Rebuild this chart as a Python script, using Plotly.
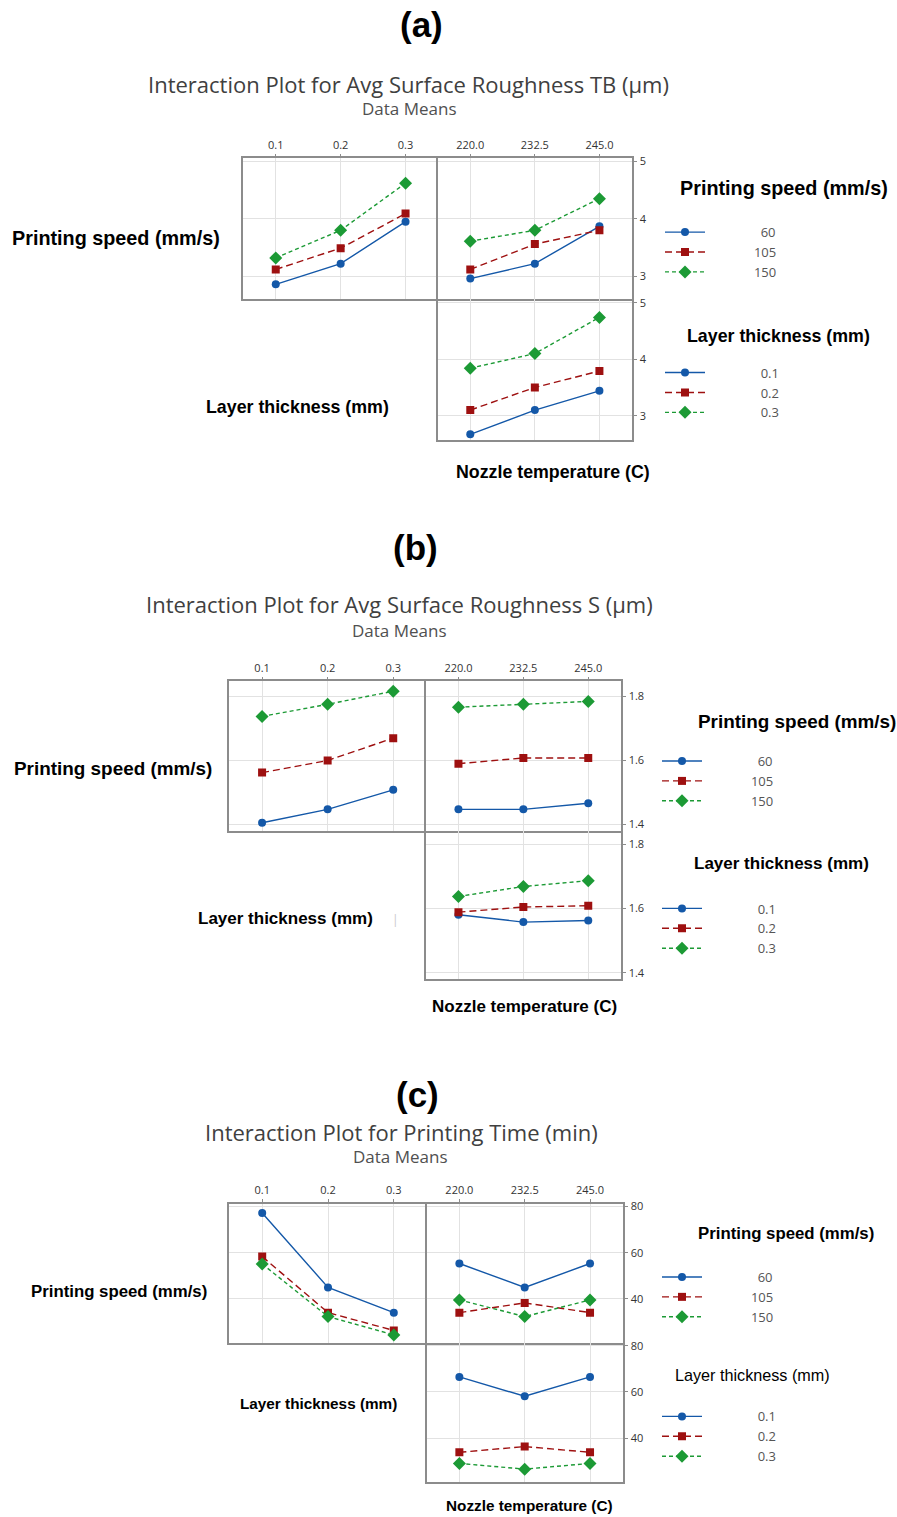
import plotly.graph_objects as go

W, H = 897, 1517


def px(x):
    return x / W


def py(y):
    return 1 - y / H


# ---------------- data ----------------
layer_thickness = [0.1, 0.2, 0.3]
nozzle_temp = [220.0, 232.5, 245.0]
thickness_ticktext = ["0.1", "0.2", "0.3"]
temp_ticktext = ["220.0", "232.5", "245.0"]
speed_labels = ["60", "105", "150"]
thickness_labels = ["0.1", "0.2", "0.3"]

# (a) Avg Surface Roughness TB (µm)
a_speed_vs_thickness = [[2.86, 3.22, 3.95], [3.12, 3.49, 4.09], [3.32, 3.80, 4.62]]
a_speed_vs_temp = [[2.96, 3.22, 3.87], [3.12, 3.56, 3.80], [3.61, 3.80, 4.35]]
a_thickness_vs_temp = [[2.67, 3.10, 3.44], [3.10, 3.50, 3.79], [3.84, 4.10, 4.74]]
a_yticks = [3, 4, 5]
a_yticktext = ["3", "4", "5"]

# (b) Avg Surface Roughness S (µm)
b_speed_vs_thickness = [[1.405, 1.447, 1.508], [1.562, 1.600, 1.670], [1.738, 1.776, 1.817]]
b_speed_vs_temp = [[1.447, 1.447, 1.466], [1.590, 1.608, 1.608], [1.767, 1.776, 1.785]]
b_thickness_vs_temp = [[1.581, 1.558, 1.563], [1.589, 1.605, 1.609], [1.638, 1.669, 1.687]]
b_yticks = [1.4, 1.6, 1.8]
b_yticktext = ["1.4", "1.6", "1.8"]

# (c) Printing Time (min)
c_speed_vs_thickness = [[77.1, 45.0, 34.1], [58.3, 34.1, 26.4], [55.1, 32.4, 24.5]]
c_speed_vs_temp = [[55.3, 45.0, 55.3], [34.1, 38.3, 34.1], [39.6, 32.4, 39.6]]
c_thickness_vs_temp = [[66.5, 58.1, 66.5], [33.8, 36.3, 33.8], [29.0, 26.5, 29.0]]
c_yticks = [40, 60, 80]
c_yticktext = ["40", "60", "80"]

# ---------------- styles ----------------
COLORS = ["#1458a8", "#9e1010", "#1c9a35"]
DASHES = ["solid", "7px,4px", "4px,3px"]
SYMBOLS = ["circle", "square", "diamond"]
MSIZES = [8, 8, 10]
GRID = "#e2e2e2"
BOX = "#8c8c8c"
TICKFONT = dict(family="Open Sans", size=11, color="#333333")
BOLD = "Liberation Sans"

fig = go.Figure()

panels = [
    dict(
        tag="(a)", tag_xy=(421, 20),
        title="Interaction Plot for Avg Surface Roughness TB (µm)", title_xy=(408, 79),
        means_xy=(409, 104),
        xl=243.3, xm=438.0, xr=631.7, yt=154.0, ym=295.5, yb=436.7,
        yr_top=[2.6, 5.05], yr_bot=[2.57, 5.06],
        yt_vals=a_yticks, yt_text=a_yticktext,
        d1=a_speed_vs_thickness, d2=a_speed_vs_temp, d3=a_thickness_vs_temp,
        lab_ps=(116, 234, 19.8), lab_lt=(297, 404, 17.8), lab_nt=(553, 469, 17.8),
        leg_ps_title=(784, 184, 19.8), leg_lt_title=(778, 332, 17.8), lt_title_bold=True,
        leg_x=665, leg_ps_y=225, leg_lt_y=366,
    ),
    dict(
        tag="(b)", tag_xy=(415, 545),
        title="Interaction Plot for Avg Surface Roughness S (µm)", title_xy=(399, 601),
        means_xy=(399, 628),
        xl=229.3, xm=426.0, xr=620.7, yt=679.0, ym=829.0, yb=977.7,
        yr_top=[1.38, 1.848], yr_bot=[1.381, 1.843],
        yt_vals=b_yticks, yt_text=b_yticktext,
        d1=b_speed_vs_thickness, d2=b_speed_vs_temp, d3=b_thickness_vs_temp,
        lab_ps=(113, 767, 18.9), lab_lt=(285, 917, 17), lab_nt=(524, 1005, 17),
        leg_ps_title=(797, 719, 18.9), leg_lt_title=(781, 862, 17), lt_title_bold=True,
        leg_x=662, leg_ps_y=756, leg_lt_y=904,
    ),
    dict(
        tag="(c)", tag_xy=(417, 1094),
        title="Interaction Plot for Printing Time (min)", title_xy=(401, 1131),
        means_xy=(400, 1156),
        xl=229.3, xm=426.7, xr=622.7, yt=1203.3, ym=1343.3, yb=1482.7,
        yr_top=[21.0, 81.2], yr_bot=[21.0, 81.2],
        yt_vals=c_yticks, yt_text=c_yticktext,
        d1=c_speed_vs_thickness, d2=c_speed_vs_temp, d3=c_thickness_vs_temp,
        lab_ps=(119, 1292, 16.8), lab_lt=(318, 1404, 15.3), lab_nt=(529, 1506, 15.3),
        leg_ps_title=(786, 1233, 16.8), leg_lt_title=(752, 1375, 16.2), lt_title_bold=False,
        leg_x=662, leg_ps_y=1274, leg_lt_y=1414,
    ),
]

annotations = []
layout_axes = {}
legends = {}


def ann(text, x, y, size, family, color="#000000", bold=False):
    t = f"<b>{text}</b>" if bold else text
    annotations.append(dict(
        text=t, x=px(x), y=py(y), xref="paper", yref="paper",
        xanchor="center", yanchor="middle", showarrow=False,
        font=dict(family=family, size=size, color=color)))


def pad(label, n):
    return "\u00a0" * n + label


for k, p in enumerate(panels):
    n = 3 * k + 1
    ids = [n, n + 1, n + 2]
    leg_ps = "legend" if k == 0 else f"legend{2 * k + 1}"
    leg_lt = f"legend{2 * k + 2}"

    dom_xl = [px(p["xl"]), px(p["xm"])]
    dom_xr = [px(p["xm"]), px(p["xr"])]
    dom_top = [py(p["ym"]), py(p["yt"])]
    dom_bot = [py(p["yb"]), py(p["ym"])]

    def xname(i):
        return "xaxis" if i == 1 else f"xaxis{i}"

    def yname(i):
        return "yaxis" if i == 1 else f"yaxis{i}"

    def ref(i):
        return ("x" if i == 1 else f"x{i}"), ("y" if i == 1 else f"y{i}")

    common_x = dict(showline=True, linecolor=BOX, linewidth=1.5,
                    showgrid=True, gridcolor=GRID, gridwidth=1, zeroline=False,
                    tickfont=TICKFONT, fixedrange=True)
    common_y = dict(showline=True, linecolor=BOX, linewidth=1.5,
                    showgrid=True, gridcolor=GRID, gridwidth=1, zeroline=False,
                    tickfont=TICKFONT, tickvals=p["yt_vals"], ticktext=p["yt_text"],
                    fixedrange=True)

    # top-left: speed vs layer thickness
    xr_, yr_ = ref(ids[0])
    layout_axes[xname(ids[0])] = dict(common_x, mirror=True, domain=dom_xl, range=[0.05, 0.35],
                                      anchor=yr_, side="top", tickvals=layer_thickness,
                                      ticktext=thickness_ticktext, ticks="outside",
                                      ticklen=3, tickcolor=BOX)
    layout_axes[yname(ids[0])] = dict(common_y, mirror=False, side="left", domain=dom_top,
                                      range=p["yr_top"], anchor=xr_,
                                      showticklabels=False, ticks="")
    # top-right: speed vs nozzle temp
    xr2, yr2 = ref(ids[1])
    layout_axes[xname(ids[1])] = dict(common_x, mirror=True, domain=dom_xr, range=[213.75, 251.25],
                                      anchor=yr2, side="top", tickvals=nozzle_temp,
                                      ticktext=temp_ticktext, ticks="outside",
                                      ticklen=3, tickcolor=BOX)
    layout_axes[yname(ids[1])] = dict(common_y, mirror=True, domain=dom_top, range=p["yr_top"],
                                      anchor=xr2, side="right", ticks="outside",
                                      ticklen=4, tickcolor=BOX)
    # bottom-right: thickness vs nozzle temp
    xr3, yr3 = ref(ids[2])
    layout_axes[xname(ids[2])] = dict(common_x, mirror=False, side="bottom", domain=dom_xr,
                                      range=[213.75, 251.25], anchor=yr3, tickvals=nozzle_temp,
                                      showticklabels=False, ticks="")
    layout_axes[yname(ids[2])] = dict(common_y, mirror=True, domain=dom_bot, range=p["yr_bot"],
                                      anchor=xr3, side="right", ticks="outside",
                                      ticklen=4, tickcolor=BOX)

    for j in range(3):
        style = dict(mode="lines+markers",
                     line=dict(color=COLORS[j], width=1.4, dash=DASHES[j]),
                     marker=dict(color=COLORS[j], symbol=SYMBOLS[j], size=MSIZES[j]))
        fig.add_trace(go.Scatter(x=layer_thickness, y=p["d1"][j], xaxis=xr_, yaxis=yr_,
                                 showlegend=False, hoverinfo="skip", **style))
        spad = 13 if len(speed_labels[j]) == 3 else 15
        fig.add_trace(go.Scatter(x=nozzle_temp, y=p["d2"][j], xaxis=xr2, yaxis=yr2,
                                 name=pad(speed_labels[j], spad), legend=leg_ps,
                                 showlegend=True, hoverinfo="skip", **style))
        fig.add_trace(go.Scatter(x=nozzle_temp, y=p["d3"][j], xaxis=xr3, yaxis=yr3,
                                 name=pad(thickness_labels[j], 15), legend=leg_lt,
                                 showlegend=True, hoverinfo="skip", **style))

    leg_common = dict(xanchor="left", yanchor="top", bgcolor="rgba(0,0,0,0)",
                      borderwidth=0, itemwidth=40, tracegroupgap=0,
                      font=dict(family="Open Sans", size=13, color="#555555"),
                      itemclick=False, itemdoubleclick=False)
    legends[leg_ps] = dict(leg_common, x=px(p["leg_x"] - 5), y=py(p["leg_ps_y"] - 12))
    legends[leg_lt] = dict(leg_common, x=px(p["leg_x"] - 5), y=py(p["leg_lt_y"] - 12))

    ann(p["tag"], *p["tag_xy"], 35, BOLD, bold=True)
    ann(p["title"], *p["title_xy"], 22, "Open Sans", color="#404040")
    ann("Data Means", *p["means_xy"], 17, "Open Sans", color="#505050")
    ann("Printing speed (mm/s)", p["lab_ps"][0], p["lab_ps"][1], p["lab_ps"][2], BOLD, bold=True)
    ann("Layer thickness (mm)", p["lab_lt"][0], p["lab_lt"][1], p["lab_lt"][2], BOLD, bold=True)
    ann("Nozzle temperature (C)", p["lab_nt"][0], p["lab_nt"][1], p["lab_nt"][2], BOLD, bold=True)
    ann("Printing speed (mm/s)", p["leg_ps_title"][0], p["leg_ps_title"][1],
        p["leg_ps_title"][2], BOLD, bold=True)
    ann("Layer thickness (mm)", p["leg_lt_title"][0], p["leg_lt_title"][1],
        p["leg_lt_title"][2], BOLD, bold=p["lt_title_bold"])

ann("|", 395, 918, 12, "Open Sans", color="#c8c8c8")

fig.update_layout(
    width=W, height=H,
    margin=dict(l=0, r=0, t=0, b=0),
    paper_bgcolor="white", plot_bgcolor="white",
    annotations=annotations,
    **layout_axes,
    **legends,
)

fig.write_html(
    "out.html",
    config={"displayModeBar": False},
    post_script="document.body.style.margin='0';document.body.style.overflow='hidden';",
)
